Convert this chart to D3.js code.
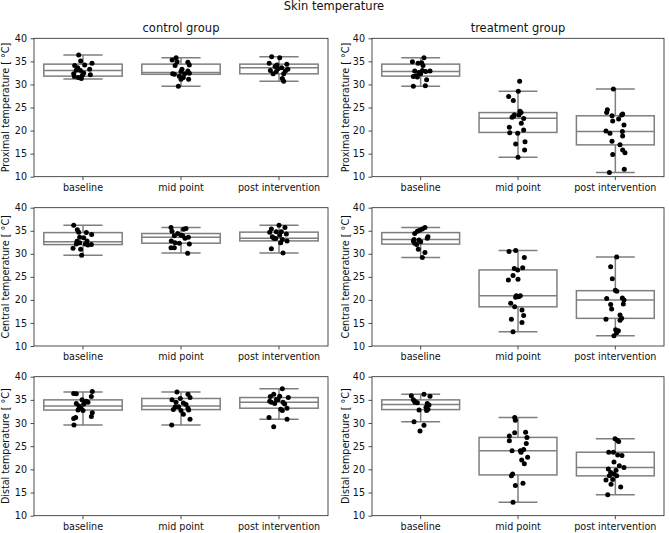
<!DOCTYPE html>
<html>
<head>
<meta charset="utf-8">
<script src="https://cdn.jsdelivr.net/npm/d3@7"></script>
<style>
  body { margin: 0; background: #fff; }
  svg text { font-family: "DejaVu Sans", sans-serif; fill: #111; }
</style>
</head>
<body>
<svg id="chart" width="669" height="533"></svg>
<script>
const categories = ['baseline', 'mid point', 'post intervention']
const groups = ['control group', 'treatment group']
const measures = ['Proximal', 'Central', 'Distal']
const yTicks = [10, 15, 20, 25, 30, 35, 40]

// points per category (values in degrees C) and horizontal jitter (fraction of a category band)
const proximalControl = [
  [36.4, 35.1, 34.6, 34.1, 33.6, 33.3, 33.0, 32.3, 32.1, 32.0, 31.7, 31.3, 31.5, 32.5, 33.1, 34.2],
  [35.8, 35.3, 34.9, 34.8, 34.1, 34.2, 33.3, 32.3, 32.8, 32.9, 32.4, 31.8, 31.1, 31.1, 29.6, 32.3, 32.2, 31.5],
  [36.0, 35.8, 34.6, 34.2, 34.4, 33.9, 33.6, 33.3, 33.0, 32.8, 32.3, 32.3, 31.3, 30.7, 33.4, 32.9]
]
const proximalControlJitter = [
  [-0.044, -0.024, 0.092, -0.085, -0.054, 0.068, -0.027, -0.095, 0.075, -0.007, -0.088, -0.017, -0.048, 0.007, -0.068, 0.017],
  [-0.05, -0.09, -0.04, 0.07, -0.06, 0.085, 0.01, -0.085, 0, 0.07, 0.085, -0.017, 0.078, 0, -0.027, 0.037, -0.068, 0.024],
  [-0.075, 0.007, -0.10, -0.02, 0.08, -0.04, 0.027, 0.09, -0.088, -0.027, -0.06, 0.048, 0.034, 0.048, -0.01, 0.065]
]
const proximalControlBox = [[31.2, 31.8, 33.0, 34.4, 36.4], [29.6, 32.2, 32.6, 34.4, 35.8], [30.7, 32.3, 33.6, 34.4, 36.0]]

const proximalTreatment = [
  [35.8, 34.9, 34.6, 34.7, 34.1, 32.9, 32.6, 32.9, 32.8, 31.7, 31.9, 32.3, 31.0, 29.6, 29.7, 31.6, 33.0],
  [30.7, 28.5, 27.4, 26.5, 24.2, 23.9, 23.4, 22.9, 22.6, 21.6, 20.7, 20.1, 19.5, 19.4, 17.1, 17.6, 15.8, 14.2, 23.1, 23.4],
  [29.0, 24.5, 23.9, 23.2, 23.4, 23.6, 22.1, 22.5, 21.2, 19.9, 19.4, 19.8, 18.8, 17.7, 16.9, 15.8, 15.2, 14.8, 10.9, 11.6]
]
const proximalTreatmentJitter = [
  [0.034, -0.085, -0.027, 0.01, 0.024, -0.061, -0.017, 0.096, 0.051, -0.075, -0.048, 0, 0.061, -0.075, 0.048, -0.034, 0.017],
  [0.017, 0.003, -0.096, -0.048, 0.02, 0.031, -0.038, -0.061, 0.058, 0.034, -0.089, 0.058, -0.085, -0.003, -0.024, 0.072, 0.068, 0, -0.044, 0.01],
  [-0.02, -0.082, -0.089, -0.034, 0.065, 0.075, -0.027, 0.034, 0.089, -0.096, -0.055, 0.072, 0.075, -0.034, 0.048, 0.075, 0.099, -0.027, -0.061, 0.092]
]
const proximalTreatmentBox = [[29.6, 31.8, 32.8, 34.4, 35.8], [14.2, 19.6, 22.65, 23.9, 28.5], [10.9, 16.9, 19.8, 23.2, 29.0]]

const centralControl = [
  [36.2, 35.2, 34.7, 34.6, 34.2, 33.6, 33.5, 32.7, 32.4, 32.1, 32.0, 31.9, 31.2, 31.0, 29.7, 32.1, 32.8],
  [35.7, 35.5, 35.3, 34.9, 34.4, 33.9, 34.0, 33.6, 33.4, 32.8, 32.4, 32.3, 32.1, 31.3, 31.3, 30.1, 33.9],
  [36.2, 35.7, 35.4, 34.7, 34.8, 34.8, 34.3, 33.7, 33.3, 33.1, 32.8, 32.4, 31.1, 30.2, 33.4, 34.0]
]
const centralControlJitter = [
  [-0.095, -0.058, -0.044, 0.034, 0.088, -0.034, 0.007, -0.061, -0.034, 0.024, 0.085, 0.051, -0.102, -0.024, -0.014, -0.068, 0.041],
  [-0.102, 0.051, 0.027, -0.092, -0.034, -0.068, 0, 0.075, 0.041, -0.099, -0.061, -0.017, 0.085, -0.102, -0.068, 0.068, 0.017],
  [0, 0.061, -0.078, -0.095, -0.027, 0.024, 0.075, -0.068, -0.034, 0.034, 0.082, 0.017, -0.078, 0.041, -0.054, 0.007]
]
const centralControlBox = [[29.7, 32.0, 32.6, 34.6, 36.2], [30.2, 32.3, 33.6, 34.4, 35.7], [30.2, 32.8, 33.4, 34.7, 36.2]]

const centralTreatment = [
  [35.7, 35.4, 35.1, 34.4, 34.9, 33.7, 33.4, 32.8, 33.0, 32.3, 32.6, 32.0, 31.0, 30.3, 29.2, 33.1],
  [30.5, 30.7, 29.2, 26.8, 27.0, 26.5, 24.3, 24.5, 25.3, 20.9, 20.9, 20.7, 19.3, 18.5, 17.8, 16.6, 15.8, 15.1, 13.1, 20.6],
  [29.3, 27.2, 24.6, 22.1, 21.9, 20.3, 20.4, 20.0, 19.1, 19.0, 18.0, 16.7, 16.0, 15.6, 15.8, 13.5, 12.9, 12.2, 13.3]
]
const centralTreatmentJitter = [
  [0.044, 0.017, -0.01, -0.061, -0.034, 0.075, 0.068, -0.075, -0.017, -0.061, 0, -0.041, -0.024, 0.044, 0.017, -0.068],
  [-0.092, -0.024, 0.065, -0.038, 0.048, -0.003, -0.099, 0, -0.051, -0.017, 0.024, 0.007, -0.075, -0.034, 0.041, 0.058, -0.068, 0.041, -0.051, -0.024],
  [0.014, -0.048, -0.031, 0, 0.014, -0.089, 0.072, 0.089, 0.082, -0.048, -0.038, 0.048, 0.065, 0.048, -0.096, 0.003, 0.014, -0.014, 0.031]
]
const centralTreatmentBox = [[29.2, 32.1, 33.1, 34.6, 35.7], [13.1, 18.5, 20.9, 26.5, 30.7], [12.2, 16.0, 20.0, 22.0, 29.3]]

const distalControl = [
  [36.4, 36.3, 36.8, 35.7, 34.7, 34.5, 35.0, 34.2, 34.1, 33.7, 33.2, 32.8, 32.7, 32.2, 31.4, 31.2, 31.0, 29.6, 34.5],
  [36.7, 36.2, 35.5, 35.0, 35.3, 34.3, 34.5, 34.0, 33.5, 33.2, 32.9, 32.7, 32.8, 31.9, 30.8, 29.6, 33.5],
  [37.4, 36.2, 35.7, 35.8, 35.5, 35.1, 34.7, 34.5, 34.2, 34.1, 34.5, 33.2, 33.0, 32.7, 31.2, 30.8, 29.2, 35.0]
]
const distalControlJitter = [
  [-0.095, -0.068, 0.095, 0.085, 0.034, 0.051, -0.01, -0.068, 0.007, -0.041, -0.02, -0.051, 0, 0.095, 0.085, -0.075, -0.095, -0.092, 0.017],
  [-0.041, 0.071, 0.092, -0.092, -0.007, 0.024, -0.051, 0.051, -0.024, 0.071, -0.078, 0, 0.078, 0.024, 0.092, -0.095, -0.058],
  [0.034, -0.054, -0.088, 0.007, 0.095, -0.027, -0.095, 0.041, -0.044, 0.058, -0.078, 0.082, 0.017, 0.034, -0.102, 0.082, -0.054, -0.01]
]
const distalControlBox = [[29.6, 32.8, 33.7, 35.0, 36.7], [29.6, 32.9, 33.7, 35.3, 36.7], [30.8, 33.2, 34.5, 35.5, 37.4]]

const distalTreatment = [
  [35.9, 36.2, 35.8, 35.0, 34.5, 34.4, 34.2, 33.9, 33.4, 33.0, 32.7, 32.8, 30.3, 29.5, 28.3, 34.7],
  [31.2, 30.6, 27.2, 27.9, 28.0, 26.9, 26.2, 25.6, 24.0, 24.0, 24.3, 23.7, 22.0, 22.6, 21.2, 18.6, 19.0, 17.0, 16.5, 12.9],
  [26.6, 26.3, 26.0, 23.7, 23.7, 23.1, 23.0, 21.6, 20.8, 20.4, 20.1, 19.8, 19.3, 19.0, 18.6, 18.6, 17.7, 17.8, 16.8, 16.2, 14.5]
]
const distalTreatmentJitter = [
  [-0.096, 0.034, 0.096, -0.075, -0.058, -0.034, 0.068, 0.085, 0.055, 0.075, 0.061, -0.017, -0.068, 0.034, -0.007, -0.061],
  [-0.034, -0.027, -0.089, -0.034, 0.078, 0.092, -0.089, 0.085, -0.061, 0.024, 0.058, 0.031, 0.038, 0.099, 0.065, -0.068, -0.055, 0.051, -0.027, -0.051],
  [-0.003, 0.02, 0.034, -0.068, -0.02, 0.024, 0.068, -0.014, 0.041, 0.089, -0.072, 0.007, -0.048, -0.014, -0.061, 0.014, -0.096, -0.027, -0.044, 0.055, -0.078]
]
const distalTreatmentBox = [[30.3, 32.9, 34.0, 35.0, 36.2], [12.9, 18.8, 24.0, 26.9, 31.2], [14.5, 18.6, 20.4, 23.7, 26.6]]

// box stats order: [lower whisker, q1, median, q3, upper whisker]
const panels = [
  [[proximalControl, proximalControlJitter, proximalControlBox], [proximalTreatment, proximalTreatmentJitter, proximalTreatmentBox]],
  [[centralControl, centralControlJitter, centralControlBox], [centralTreatment, centralTreatmentJitter, centralTreatmentBox]],
  [[distalControl, distalControlJitter, distalControlBox], [distalTreatment, distalTreatmentJitter, distalTreatmentBox]]
]

const svg = d3.select('#chart')
const colX = [[34, 328], [372, 664]]
const rowY = [[38.3, 176.7], [207.7, 346], [376.7, 515.7]]
const boxColor = '#7f7f7f'
const frameColor = '#222'

svg.append('text')
  .attr('x', 334)
  .attr('y', 10)
  .attr('text-anchor', 'middle')
  .style('font-size', '11.5px')
  .text('Skin temperature')

groups.forEach((grp, c) => {
  svg.append('text')
    .attr('x', (colX[c][0] + colX[c][1]) / 2)
    .attr('y', 32)
    .attr('text-anchor', 'middle')
    .style('font-size', '11.5px')
    .text(grp)
})

measures.forEach((m, r) => {
  groups.forEach((grp, c) => {
    const [values, jitter, boxes] = panels[r][c]
    const [x0, x1] = colX[c]
    const [yTop, yBottom] = rowY[r]

    const xScale = d3.scaleBand()
      .domain(categories)
      .range([x0, x1])
      .padding(0)
    const yScale = d3.scaleLinear()
      .domain([10, 40])
      .range([yBottom, yTop])
    const bw = xScale.bandwidth()

    const g = svg.append('g')

    // boxes
    categories.forEach((cat, i) => {
      const [lo, q1, med, q3, hi] = boxes[i]
      const cx = xScale(cat) + bw / 2
      const half = bw * 0.4
      const cap = bw * 0.2
      const box = g.append('g')
        .attr('stroke', boxColor)
        .attr('stroke-width', 1.5)
        .attr('fill', 'none')

      box.append('line')
        .attr('x1', cx).attr('x2', cx)
        .attr('y1', yScale(q1)).attr('y2', yScale(lo))
      box.append('line')
        .attr('x1', cx).attr('x2', cx)
        .attr('y1', yScale(q3)).attr('y2', yScale(hi))
      box.append('line')
        .attr('x1', cx - cap).attr('x2', cx + cap)
        .attr('y1', yScale(lo)).attr('y2', yScale(lo))
      box.append('line')
        .attr('x1', cx - cap).attr('x2', cx + cap)
        .attr('y1', yScale(hi)).attr('y2', yScale(hi))
      box.append('rect')
        .attr('x', cx - half)
        .attr('y', yScale(q3))
        .attr('width', half * 2)
        .attr('height', yScale(q1) - yScale(q3))
        .attr('fill', '#fff')
      box.append('line')
        .attr('x1', cx - half).attr('x2', cx + half)
        .attr('y1', yScale(med)).attr('y2', yScale(med))
    })

    // points
    categories.forEach((cat, i) => {
      const pts = values[i].map((v, k) => ({ v, j: jitter[i][k] }))
      g.append('g')
        .selectAll('circle')
        .data(pts)
        .join('circle')
        .attr('cx', d => xScale(cat) + bw / 2 + d.j * bw)
        .attr('cy', d => yScale(d.v))
        .attr('r', 2.5)
        .attr('fill', '#000')
    })

    // axes
    const leftAxis = d3.axisLeft(yScale)
      .tickValues(yTicks)
      .tickSize(3.5)
      .tickPadding(3.5)
    const bottomAxis = d3.axisBottom(xScale)
      .tickSize(3.5)
      .tickPadding(3.5)

    const ya = g.append('g')
      .attr('transform', `translate(${x0}, 0)`)
      .call(leftAxis)
    const xa = g.append('g')
      .attr('transform', `translate(0, ${yBottom})`)
      .call(bottomAxis)

    ;[ya, xa].forEach(a => {
      a.select('.domain').remove()
      a.selectAll('.tick line').attr('stroke', frameColor).attr('stroke-width', 0.8)
      a.selectAll('.tick text')
        .style('font-family', '"DejaVu Sans", sans-serif')
        .style('font-size', '9.6px')
        .attr('fill', '#111')
    })

    g.append('rect')
      .attr('x', x0)
      .attr('y', yTop)
      .attr('width', x1 - x0)
      .attr('height', yBottom - yTop)
      .attr('fill', 'none')
      .attr('stroke', frameColor)
      .attr('stroke-width', 0.8)

    const labelX = c === 0 ? 9 : 348.5
    g.append('text')
      .attr('transform', `translate(${labelX}, ${(yTop + yBottom) / 2}) rotate(-90)`)
      .attr('text-anchor', 'middle')
      .style('font-size', '9.6px')
      .text(`${m} temperature [ \u00B0C]`)
  })
})
</script>
</body>
</html>
